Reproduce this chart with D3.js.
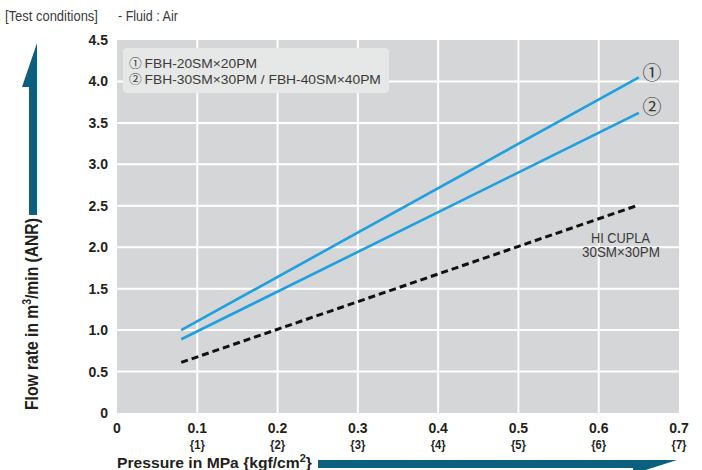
<!DOCTYPE html>
<html><head><meta charset="utf-8">
<script src="https://cdn.jsdelivr.net/npm/d3@7"></script>
<style>
html,body{margin:0;padding:0;background:#fff;}
svg{display:block;}
text{font-family:"Liberation Sans",Arial,sans-serif;}
.cj{font-family:"Noto Sans CJK JP","DejaVu Sans",sans-serif;}
</style></head>
<body>
<script>
const xTicks = [0, 0.1, 0.2, 0.3, 0.4, 0.5, 0.6, 0.7];
const xTickLabels = ["0", "0.1", "0.2", "0.3", "0.4", "0.5", "0.6", "0.7"];
const xTickSub = ["", "{1}", "{2}", "{3}", "{4}", "{5}", "{6}", "{7}"];
const yTicks = [0, 0.5, 1.0, 1.5, 2.0, 2.5, 3.0, 3.5, 4.0, 4.5];
const yTickLabels = ["0", "0.5", "1.0", "1.5", "2.0", "2.5", "3.0", "3.5", "4.0", "4.5"];
const pressure = [0.08, 0.65];
const series1 = [1.0, 4.05];
const series2 = [0.89, 3.62];
const hiCupla = [0.61, 2.51];
const legendMarks = ["\u2460", "\u2461"];
const legendNames = ["FBH-20SM\u00d720PM", "FBH-30SM\u00d730PM / FBH-40SM\u00d740PM"];

const W = 702, H = 470;
const svg = d3.select("body").append("svg").attr("width", W).attr("height", H);
const x = d3.scaleLinear().domain([0, 0.7]).range([117, 679]);
const y = d3.scaleLinear().domain([0, 4.5]).range([413, 40]);

// place a text at (tx,ty) [optionally rotated], condensed horizontally to target width
function fit(t, tx, ty, targetW, rot) {
  const w = t.node().getComputedTextLength();
  const s = targetW / w;
  t.attr("x", 0).attr("y", 0)
   .attr("transform", `translate(${tx},${ty})` + (rot ? ` rotate(${rot})` : "") + ` scale(${s},1)`);
  return t;
}

// header text
fit(svg.append("text").attr("font-size", 14).attr("fill", "#3a3a3a").text("[Test conditions]"), 5, 21, 93);
fit(svg.append("text").attr("font-size", 14).attr("fill", "#3a3a3a").text("- Fluid : Air"), 118, 21, 60);

// plot background
svg.append("rect").attr("x", x(0)).attr("y", y(4.5)).attr("width", x(0.7) - x(0)).attr("height", y(0) - y(4.5)).attr("fill", "#d4d6d7");

// gridlines
svg.append("g").selectAll("line").data(xTicks.filter(d => d > 0 && d < 0.7)).join("line")
  .attr("x1", d => x(d)).attr("x2", d => x(d)).attr("y1", y(4.5)).attr("y2", y(0))
  .attr("stroke", "#fff").attr("stroke-width", 2);
svg.append("g").selectAll("line").data(yTicks.filter(d => d > 0 && d < 4.5)).join("line")
  .attr("x1", x(0) - 1).attr("x2", x(0.7)).attr("y1", d => y(d)).attr("y2", d => y(d))
  .attr("stroke", "#fff").attr("stroke-width", 2);

// legend box
svg.append("rect").attr("x", 123).attr("y", 48).attr("width", 266).attr("height", 45).attr("rx", 4)
  .attr("fill", "#e6e7e7");
const legW = [128, 252];
legendNames.forEach((nm, i) => {
  const t = svg.append("text").attr("font-size", 13).attr("fill", "#3a3a3a");
  t.append("tspan").attr("class", "cj").attr("font-size", 12).text(legendMarks[i]);
  t.append("tspan").text("\u2009" + nm);
  fit(t, 129, 67.5 + i * 16.8, legW[i]);
});

// y tick labels
svg.append("g").selectAll("text").data(yTicks).join("text")
  .attr("x", 108).attr("y", d => y(d)).attr("dy", "0.36em").attr("text-anchor", "end")
  .attr("font-size", 14).attr("font-weight", "bold").attr("fill", "#231f20")
  .text((d, i) => yTickLabels[i]);

// x tick labels
xTicks.forEach((d, i) => {
  svg.append("text").attr("x", x(d)).attr("y", 433).attr("text-anchor", "middle")
    .attr("font-size", 14).attr("font-weight", "bold").attr("fill", "#231f20").text(xTickLabels[i]);
  if (xTickSub[i]) {
    const t = svg.append("text").attr("text-anchor", "middle")
      .attr("font-size", 13.5).attr("font-weight", "bold").attr("fill", "#231f20").text(xTickSub[i]);
    fit(t, x(d), 449, 15);
  }
});

// lines
const line = d3.line().x(d => x(d[0])).y(d => y(d[1]));
const mk = arr => pressure.map((p, i) => [p, arr[i]]);
svg.append("path").attr("d", line(mk(series1))).attr("fill", "none").attr("stroke", "#1e9fdf").attr("stroke-width", 2.6);
svg.append("path").attr("d", line(mk(series2))).attr("fill", "none").attr("stroke", "#1e9fdf").attr("stroke-width", 2.6);
svg.append("path").attr("d", line(mk(hiCupla))).attr("fill", "none").attr("stroke", "#111").attr("stroke-width", 3)
  .attr("stroke-dasharray", "7,4");

// line labels
svg.append("text").attr("class", "cj").attr("x", 652).attr("y", 73.3).attr("dy", "0.36em").attr("text-anchor", "middle")
  .attr("font-size", 19).attr("fill", "#333").text(legendMarks[0]);
svg.append("text").attr("class", "cj").attr("x", 652).attr("y", 106.7).attr("dy", "0.36em").attr("text-anchor", "middle")
  .attr("font-size", 19).attr("fill", "#333").text(legendMarks[1]);
fit(svg.append("text").attr("font-size", 14).attr("fill", "#3a3a3a").text("HI CUPLA"), 591, 242.5, 59);
fit(svg.append("text").attr("font-size", 14).attr("fill", "#3a3a3a").text("30SM\u00d730PM"), 582, 257, 78);

// y arrow
const ac = "#0b5f7f";
svg.append("rect").attr("x", 29).attr("y", 86).attr("width", 8).attr("height", 129).attr("fill", ac);
svg.append("path").attr("d", "M37,43 L37,87 L22,87 Z").attr("fill", ac);
// y label
const yl = svg.append("text").attr("font-size", 18).attr("font-weight", "bold").attr("fill", "#231f20");
yl.append("tspan").text("Flow rate in m");
yl.append("tspan").attr("font-size", 12).attr("dy", -7).text("3");
yl.append("tspan").attr("dy", 7).text("/min (ANR)");
fit(yl, 37.5, 410, 192, -90);

// x arrow
svg.append("rect").attr("x", 318).attr("y", 460).attr("width", 318).attr("height", 8).attr("fill", ac);
svg.append("path").attr("d", "M633,460 L677,460 L633,474 Z").attr("fill", ac);
const xl = svg.append("text").attr("font-size", 15).attr("font-weight", "bold").attr("fill", "#231f20");
xl.append("tspan").text("Pressure in MPa {kgf/cm");
xl.append("tspan").attr("font-size", 10.5).attr("dy", -6).text("2");
xl.append("tspan").attr("dy", 6).text("}");
fit(xl, 117, 467.5, 195);
</script>
</body></html>
